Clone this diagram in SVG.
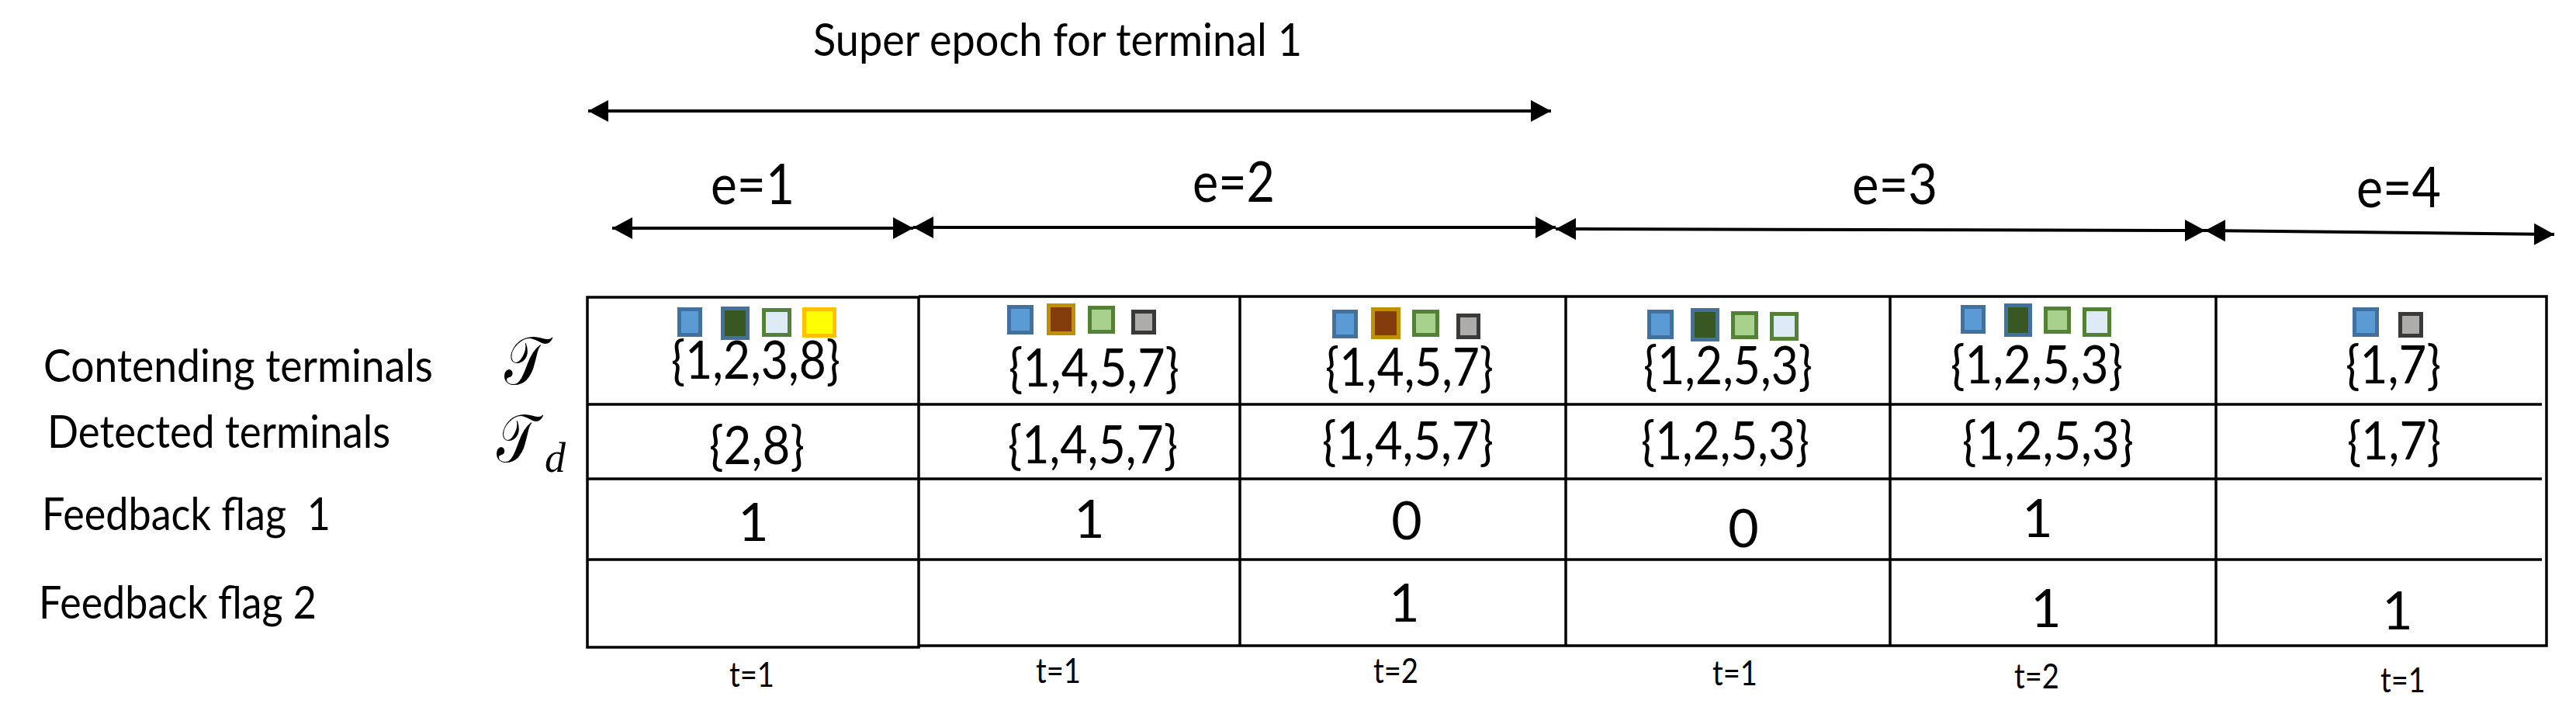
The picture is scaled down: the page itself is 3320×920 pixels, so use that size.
<svg xmlns="http://www.w3.org/2000/svg" width="3320" height="920" viewBox="0 0 3320 920">
<style>
text{font-family:Lato,"Liberation Sans",sans-serif;fill:#000}
.lbl{font-size:58px;white-space:pre}
.ep{font-size:72px}
.val{font-size:68px}
.num{font-size:68px;text-anchor:middle}
.t{font-size:44px}
.grid{stroke:#000;stroke-width:3.5;fill:none}
.arr{stroke:#000;stroke-width:4;fill:none;marker-start:url(#ah);marker-end:url(#ah)}
.sym{font-family:"DejaVu Serif","Liberation Serif",serif}
.sub{font-family:"Liberation Serif",serif;font-style:italic}
.b{fill:#5B9BD5;stroke:#41719C;stroke-width:5}
.dg{fill:#385723;stroke:#41719C;stroke-width:5}
.lb{fill:#DEEBF7;stroke:#538135;stroke-width:5}
.y{fill:#FFFF00;stroke:#FFC000;stroke-width:5}
.br{fill:#843C0C;stroke:#BF9000;stroke-width:5}
.lg{fill:#A9D18E;stroke:#538135;stroke-width:5}
.gr{fill:#AEABAB;stroke:#3B3838;stroke-width:5}
</style>
<defs>
<marker id="ah" markerUnits="userSpaceOnUse" markerWidth="28" markerHeight="30" viewBox="0 0 28 30" refX="26" refY="15" orient="auto-start-reverse">
<path d="M0,1 L26,15 L0,29 Z" fill="#000"/>
</marker>
</defs>
<rect width="3320" height="920" fill="#fff"/>

<g id="title">
<text class="lbl" x="1048" y="72" textLength="630" lengthAdjust="spacingAndGlyphs">Super epoch for terminal 1</text>
</g>

<g id="connectors">
<line class="arr" x1="758" y1="143" x2="1999" y2="143"/>
<line class="arr" x1="789" y1="294" x2="1177" y2="294"/>
<line class="arr" x1="1177" y1="293" x2="2005" y2="293"/>
<line class="arr" x1="2005" y1="295" x2="2842" y2="297"/>
<line class="arr" x1="2842" y1="297" x2="3292" y2="302"/>
</g>

<g id="epoch-labels">
<text class="ep" x="916" y="263" textLength="108" lengthAdjust="spacingAndGlyphs">e=1</text>
<text class="ep" x="1537" y="260" textLength="106" lengthAdjust="spacingAndGlyphs">e=2</text>
<text class="ep" x="2387" y="263" textLength="110" lengthAdjust="spacingAndGlyphs">e=3</text>
<text class="ep" x="3037" y="267" textLength="109" lengthAdjust="spacingAndGlyphs">e=4</text>
</g>

<g id="row-labels">
<text class="lbl" x="56" y="492" textLength="502" lengthAdjust="spacingAndGlyphs">Contending terminals</text>
<text class="lbl" x="61" y="577" textLength="442" lengthAdjust="spacingAndGlyphs">Detected terminals</text>
<text class="lbl" x="54" y="683" textLength="372" lengthAdjust="spacingAndGlyphs">Feedback flag  1</text>
<text class="lbl" x="50" y="797" textLength="358" lengthAdjust="spacingAndGlyphs">Feedback flag 2</text>
<text class="sym" x="650" y="495" font-size="88" textLength="54" lengthAdjust="spacingAndGlyphs">𝒯</text>
<text class="sym" x="640" y="595" font-size="88" textLength="52" lengthAdjust="spacingAndGlyphs">𝒯</text>
<text class="sub" x="702" y="608" font-size="54">d</text>
</g>

<g id="table">
<rect class="grid" x="757" y="383" width="427" height="451"/>
<polyline class="grid" points="1184,382 3282,382 3282,832 1184,832"/>
<line class="grid" x1="757" y1="521" x2="3276" y2="521"/>
<line class="grid" x1="757" y1="617" x2="3276" y2="617"/>
<line class="grid" x1="757" y1="721" x2="3276" y2="721"/>
<line class="grid" x1="1598" y1="382" x2="1598" y2="832"/>
<line class="grid" x1="2018" y1="382" x2="2018" y2="832"/>
<line class="grid" x1="2436" y1="382" x2="2436" y2="832"/>
<line class="grid" x1="2856" y1="382" x2="2856" y2="832"/>
</g>

<g id="col1">
<rect class="b" x="875.5" y="398.5" width="27" height="33"/>
<rect class="dg" x="931.5" y="397.5" width="32" height="38"/>
<rect class="lb" x="984.5" y="399.5" width="33" height="32"/>
<rect class="y" x="1036.5" y="398.5" width="39" height="34"/>
<text class="val" x="865" y="488" textLength="218" lengthAdjust="spacingAndGlyphs">{1,2,3,8}</text>
<text class="val" x="914" y="598" textLength="123" lengthAdjust="spacingAndGlyphs">{2,8}</text>
<text class="num" x="971" y="697">1</text>
<text class="t" x="940" y="885" textLength="58" lengthAdjust="spacingAndGlyphs">t=1</text>
</g>

<g id="col2">
<rect class="b" x="1300.5" y="395.5" width="29" height="33"/>
<rect class="br" x="1351.5" y="393.5" width="32" height="36"/>
<rect class="lg" x="1404.5" y="396.5" width="30" height="31"/>
<rect class="gr" x="1460.5" y="401.5" width="27" height="27"/>
<text class="val" x="1300" y="498" textLength="220" lengthAdjust="spacingAndGlyphs">{1,4,5,7}</text>
<text class="val" x="1299" y="597" textLength="219" lengthAdjust="spacingAndGlyphs">{1,4,5,7}</text>
<text class="num" x="1404" y="693">1</text>
<text class="t" x="1335" y="880" textLength="58" lengthAdjust="spacingAndGlyphs">t=1</text>
</g>

<g id="col3">
<rect class="b" x="1719.5" y="401.5" width="28" height="32"/>
<rect class="br" x="1769.5" y="398.5" width="33" height="36"/>
<rect class="lg" x="1822.5" y="401.5" width="30" height="30"/>
<rect class="gr" x="1879.5" y="406.5" width="26" height="28"/>
<text class="val" x="1708" y="497" textLength="217" lengthAdjust="spacingAndGlyphs">{1,4,5,7}</text>
<text class="val" x="1704" y="592" textLength="221" lengthAdjust="spacingAndGlyphs">{1,4,5,7}</text>
<text class="num" x="1813" y="695">0</text>
<text class="num" x="1810" y="801">1</text>
<text class="t" x="1770" y="880" textLength="58" lengthAdjust="spacingAndGlyphs">t=2</text>
</g>

<g id="col4">
<rect class="b" x="2125.5" y="401.5" width="29" height="33"/>
<rect class="dg" x="2181.5" y="399.5" width="32" height="38"/>
<rect class="lg" x="2233.5" y="403.5" width="30" height="31"/>
<rect class="lb" x="2283.5" y="404.5" width="32" height="32"/>
<text class="val" x="2118" y="495" textLength="218" lengthAdjust="spacingAndGlyphs">{1,2,5,3}</text>
<text class="val" x="2115" y="592" textLength="217" lengthAdjust="spacingAndGlyphs">{1,2,5,3}</text>
<text class="num" x="2247" y="705">0</text>
<text class="t" x="2207" y="883" textLength="58" lengthAdjust="spacingAndGlyphs">t=1</text>
</g>

<g id="col5">
<rect class="b" x="2529.5" y="395.5" width="27" height="32"/>
<rect class="dg" x="2585.5" y="393.5" width="31" height="38"/>
<rect class="lg" x="2636.5" y="397.5" width="30" height="30"/>
<rect class="lb" x="2686.5" y="398.5" width="32" height="33"/>
<text class="val" x="2514" y="494" textLength="222" lengthAdjust="spacingAndGlyphs">{1,2,5,3}</text>
<text class="val" x="2529" y="592" textLength="221" lengthAdjust="spacingAndGlyphs">{1,2,5,3}</text>
<text class="num" x="2626" y="692">1</text>
<text class="num" x="2637" y="808">1</text>
<text class="t" x="2596" y="887" textLength="58" lengthAdjust="spacingAndGlyphs">t=2</text>
</g>

<g id="col6">
<rect class="b" x="3034.5" y="398.5" width="29" height="33"/>
<rect class="gr" x="3093.5" y="404.5" width="27" height="28"/>
<text class="val" x="3023" y="494" textLength="123" lengthAdjust="spacingAndGlyphs">{1,7}</text>
<text class="val" x="3025" y="592" textLength="121" lengthAdjust="spacingAndGlyphs">{1,7}</text>
<text class="num" x="3090" y="811">1</text>
<text class="t" x="3068" y="892" textLength="58" lengthAdjust="spacingAndGlyphs">t=1</text>
</g>
</svg>
